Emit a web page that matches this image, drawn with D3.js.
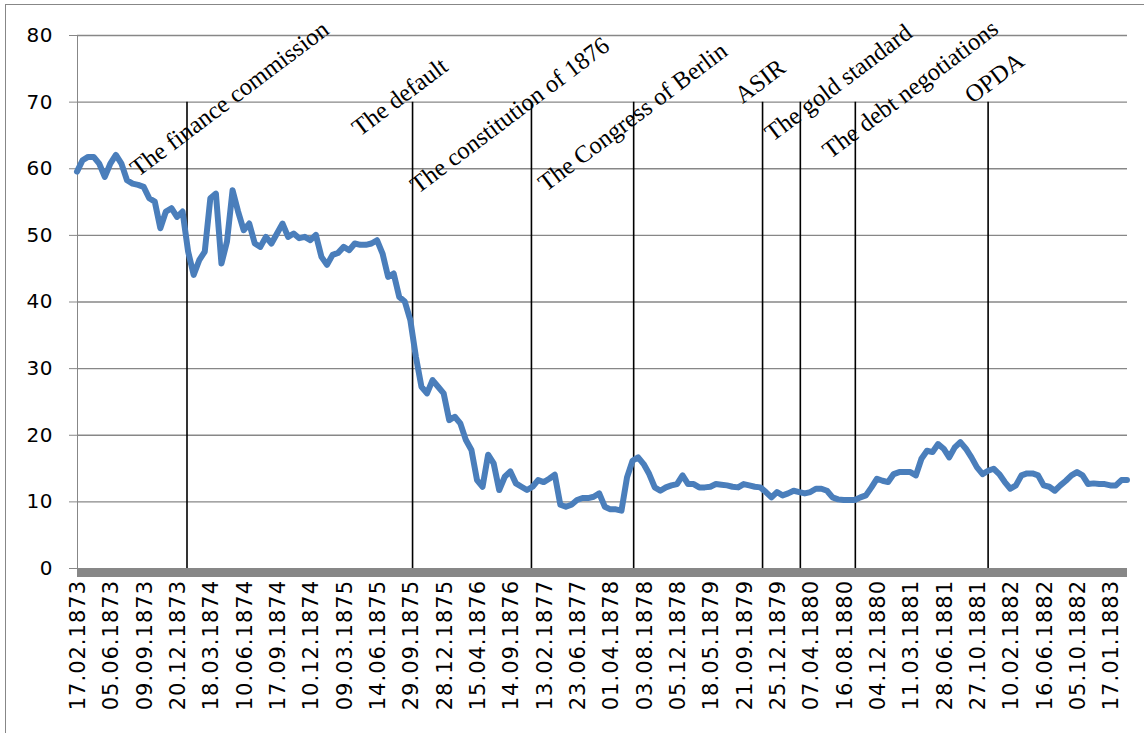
<!DOCTYPE html>
<html lang="en">
<head>
    <meta charset="UTF-8">
    <title>Bond price 1873-1883</title>
    <script src="https://d3js.org/d3.v7.min.js"></script>
    <style>
        body { margin: 0; background: #fff; }
        svg { display: block; }
    </style>
</head>
<body>
<div id="chart"></div>
<script>
    // x axis labels, one every 6 observations
    var dateLabels = ["17.02.1873", "05.06.1873", "09.09.1873", "20.12.1873", "18.03.1874", "10.06.1874",
        "17.09.1874", "10.12.1874", "09.03.1875", "14.06.1875", "29.09.1875", "28.12.1875", "15.04.1876",
        "14.09.1876", "13.02.1877", "23.06.1877", "01.04.1878", "03.08.1878", "05.12.1878", "18.05.1879",
        "21.09.1879", "25.12.1879", "07.04.1880", "16.08.1880", "04.12.1880", "11.03.1881", "28.06.1881",
        "27.10.1881", "10.02.1882", "16.06.1882", "05.10.1882", "17.01.1883"];
    var labelStep = 6;

    // price series
    var prices = [
        59.5, 61.2, 61.7, 61.7, 60.7, 58.7, 60.7, 62, 60.7, 58.2,
        57.7, 57.5, 57.2, 55.5, 55, 51, 53.5, 54, 52.7, 53.5,
        47.5, 44, 46.2, 47.5, 55.5, 56.2, 45.7, 49, 56.7, 53.5,
        50.7, 51.7, 48.7, 48.2, 49.7, 48.7, 50.2, 51.7, 49.7, 50.2,
        49.5, 49.7, 49.2, 50, 46.7, 45.5, 47, 47.3, 48.2, 47.7,
        48.7, 48.5, 48.5, 48.7, 49.2, 47.2, 43.7, 44.2, 40.7, 40,
        37.2, 31.7, 27.2, 26.2, 28.2, 27.2, 26.2, 22.2, 22.7, 21.7,
        19.2, 17.7, 13.2, 12.2, 17, 15.7, 11.7, 13.7, 14.5, 12.7,
        12.2, 11.7, 12.2, 13.2, 12.9, 13.4, 14, 9.5, 9.2, 9.5,
        10.2, 10.5, 10.5, 10.7, 11.2, 9.2, 8.8, 8.8, 8.6, 13.6,
        16.1, 16.6, 15.6, 14.1, 12.1, 11.6, 12.1, 12.4, 12.6, 13.9,
        12.6, 12.6, 12.1, 12.1, 12.2, 12.6, 12.5, 12.4, 12.2, 12.1,
        12.6, 12.4, 12.2, 12.1, 11.4, 10.6, 11.4, 10.9, 11.2, 11.6,
        11.4, 11.2, 11.4, 11.9, 11.9, 11.6, 10.6, 10.3, 10.2, 10.2,
        10.2, 10.6, 10.9, 12.1, 13.4, 13.1, 12.9, 14.1, 14.4, 14.4,
        14.4, 13.9, 16.4, 17.6, 17.4, 18.6, 17.9, 16.6, 18.1, 18.9,
        17.9, 16.6, 15.1, 14.1, 14.6, 14.9, 14.1, 12.9, 11.9, 12.4,
        13.9, 14.2, 14.2, 13.9, 12.4, 12.2, 11.6, 12.4, 13.1, 13.9,
        14.4, 13.9, 12.6, 12.7, 12.6, 12.6, 12.4, 12.4, 13.2, 13.2
    ];

    var yTicks = [0, 10, 20, 30, 40, 50, 60, 70, 80];

    // events: name, observation index of the line, where the label starts (index, value)
    var eventNames = ["The finance commission", "The default", "The constitution of 1876", "The Congress of Berlin",
        "ASIR", "The gold standard", "The debt negotiations", "OPDA"];
    var eventIndex = [19.8, 60.4, 81.8, 100.2, 123.4, 130.2, 140.1, 164];
    var eventLabelIndex = [11, 50.9, 61.4, 84.4, 119.8, 125.2, 135.6, 161.2];
    var eventLabelValue = [58.6, 64.7, 56.1, 56.4, 69.6, 63.9, 61.3, 69.6];
    var eventTop = 70;

    var width = 1144, height = 733;
    var margin = {left: 77, right: 17, top: 35, bottom: 165};

    var svg = d3.select("#chart").append("svg")
        .attr("width", width)
        .attr("height", height);

    // chart area border
    svg.append("rect")
        .attr("x", 5.5).attr("y", 4.5)
        .attr("width", 1300).attr("height", 900)
        .attr("fill", "none")
        .attr("stroke", "#878787")
        .attr("stroke-width", 1);

    var x = d3.scaleLinear()
        .domain([0, prices.length - 1])
        .range([margin.left, width - margin.right]);

    var y = d3.scaleLinear()
        .domain([0, 80])
        .range([height - margin.bottom, margin.top]);

    // gridlines + y labels
    var yAxis = d3.axisLeft(y)
        .tickValues(yTicks)
        .tickSize(8)
        .tickPadding(16)
        .tickFormat(d3.format("d"));

    var gy = svg.append("g")
        .attr("transform", "translate(" + margin.left + ",0)")
        .call(yAxis);
    gy.select(".domain").attr("stroke", "#878787");
    gy.selectAll(".tick line").attr("stroke", "#878787");
    gy.selectAll(".tick text")
        .attr("fill", "#000")
        .style("font-family", "DejaVu Sans")
        .style("font-size", "20px")
        .style("letter-spacing", "0.5px");

    svg.append("g").selectAll("line.grid")
        .data(yTicks.filter(d => d > 0))
        .enter().append("line")
        .attr("x1", margin.left)
        .attr("x2", width - margin.right)
        .attr("y1", d => y(d) + 0.5)
        .attr("y2", d => y(d) + 0.5)
        .attr("stroke", "#878787")
        .attr("stroke-width", 1.3);

    // event lines
    svg.append("g").selectAll("line.event")
        .data(eventIndex)
        .enter().append("line")
        .attr("x1", d => x(d))
        .attr("x2", d => x(d))
        .attr("y1", y(eventTop))
        .attr("y2", y(0))
        .attr("stroke", "#000")
        .attr("stroke-width", 1.6);

    // price line
    var line = d3.line()
        .x((d, i) => x(i))
        .y(d => y(d));

    svg.append("path")
        .datum(prices)
        .attr("d", line)
        .attr("fill", "none")
        .attr("stroke", "#4a7ebb")
        .attr("stroke-width", 6)
        .attr("stroke-linejoin", "round")
        .attr("stroke-linecap", "round");

    // x axis (thick grey bar) with rotated date labels
    var xAxis = d3.axisBottom(x)
        .tickValues(dateLabels.map((d, i) => i * labelStep))
        .tickSize(0)
        .tickFormat((d, i) => dateLabels[i]);

    var gx = svg.append("g")
        .attr("transform", "translate(0," + y(0) + ")")
        .call(xAxis);
    gx.select(".domain").remove();
    gx.append("line")
        .attr("x1", margin.left)
        .attr("x2", width - margin.right)
        .attr("y1", 4.5)
        .attr("y2", 4.5)
        .attr("stroke", "#878787")
        .attr("stroke-width", 9);
    gx.selectAll(".tick text")
        .attr("fill", "#000")
        .attr("transform", "rotate(-90)")
        .attr("text-anchor", "end")
        .attr("x", -12)
        .attr("y", 0)
        .attr("dy", "0.35em")
        .style("font-family", "DejaVu Sans")
        .style("font-size", "21px")
        .style("letter-spacing", "1px");

    // event labels
    svg.append("g").selectAll("text.event")
        .data(eventNames)
        .enter().append("text")
        .attr("transform", (d, i) => "translate(" + x(eventLabelIndex[i]) + "," + y(eventLabelValue[i]) + ") rotate(-37)")
        .style("font-family", "Liberation Serif")
        .style("font-size", "24.5px")
        .attr("fill", "#000")
        .text(d => d);
</script>
</body>
</html>
